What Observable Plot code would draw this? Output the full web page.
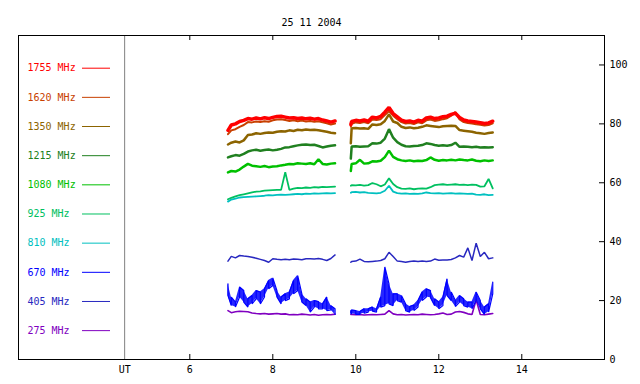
<!DOCTYPE html>
<html><head><meta charset="utf-8">
<script src="https://cdn.jsdelivr.net/npm/d3@7"></script>
<script src="https://cdn.jsdelivr.net/npm/@observablehq/plot@0.6"></script>
<style>body{margin:0;background:#fff}</style>
</head><body><div id="chart"></div>
<script>
const title = "25 11 2004";
const freqLabels = ["1755 MHz","1620 MHz","1350 MHz","1215 MHz","1080 MHz","925 MHz","810 MHz","670 MHz","405 MHz","275 MHz"];
const freqColors = ["#ff0000","#c84000","#8c6400","#208020","#00c000","#00c060","#00c0c0","#0000ff","#2828c0","#8000c0"];
const xTicks = [6, 8, 10, 12, 14];
const yTicks = [0, 20, 40, 60, 80, 100];
const utLabel = "UT";
const utTime = 4.43;

const t1 = [6.92,7.0,7.1,7.2,7.3,7.4,7.5,7.6,7.7,7.8,7.9,8.0,8.1,8.2,8.3,8.4,8.5,8.6,8.7,8.8,8.9,9.0,9.1,9.2,9.3,9.4,9.5];
const t2 = [9.88,9.9,10.0,10.1,10.2,10.3,10.4,10.5,10.6,10.7,10.8,10.9,11.0,11.1,11.2,11.3,11.4,11.5,11.6,11.7,11.8,11.9,12.0,12.1,12.2,12.3,12.4,12.5,12.6,12.7,12.8,12.9,13.0,13.1,13.2,13.3];

const f1755a = [77.8,79.6,80.0,80.8,81.2,81.8,81.6,82.0,81.7,82.1,81.8,82.2,82.5,82.6,82.3,82.0,82.1,81.8,82.0,81.7,81.9,81.6,81.8,81.3,81.0,80.6,81.0];
const f1755b = [79.8,80.8,81.2,81.0,81.3,80.9,82.3,82.0,82.5,84.0,85.6,83.5,82.4,81.3,80.8,81.0,80.6,81.2,80.9,82.0,82.3,81.8,82.0,82.4,82.6,83.2,83.6,82.2,81.3,81.0,80.8,80.6,80.4,80.1,80.3,80.9];
const f1620a = [76.5,77.8,78.2,79.0,79.6,80.6,80.5,80.8,80.6,80.9,80.7,81.2,81.5,81.6,81.3,81.0,81.2,80.9,81.1,80.8,81.0,80.7,80.9,80.5,80.2,79.8,80.1];
const f1620b = [79.0,80.0,80.5,80.3,80.6,80.2,81.5,81.3,81.6,83.0,84.3,82.8,81.6,80.6,80.1,80.3,79.9,80.5,80.2,81.2,81.5,81.0,81.2,81.6,81.9,82.8,84.0,81.5,80.6,80.3,80.1,79.9,79.7,79.4,79.6,80.2];
const f1350a = [73.0,73.6,74.0,73.7,74.4,76.2,76.4,76.8,76.6,76.9,77.1,77.0,77.3,77.5,77.4,77.8,77.6,78.0,77.8,78.1,77.9,78.0,77.8,77.6,77.3,77.0,76.8];
const f1350b = [73.4,78.5,78.6,78.4,78.5,78.3,79.8,79.6,79.9,81.0,83.2,80.8,80.3,79.0,78.6,78.8,78.5,78.7,79.0,79.5,79.3,79.1,78.9,79.2,79.3,79.4,79.3,77.9,77.7,77.5,77.3,77.0,76.8,76.6,76.9,77.1];
const f1215a = [68.6,69.0,69.4,69.2,69.8,70.6,71.0,71.2,70.9,71.1,71.3,71.0,71.2,71.5,72.0,72.1,72.4,72.7,72.9,73.0,72.8,72.9,72.5,72.0,72.3,72.6,72.7];
const f1215b = [68.2,72.3,72.4,72.2,72.3,72.4,73.4,73.3,73.6,75.0,78.2,75.3,73.8,72.9,72.4,72.3,72.5,72.6,72.8,73.4,73.2,72.8,72.6,72.7,72.6,72.8,73.6,72.2,72.3,72.2,72.1,72.2,72.0,72.1,72.0,72.1];
const f1080a = [63.5,64.0,63.8,64.5,65.5,66.4,65.8,65.6,65.4,65.7,65.3,65.5,65.6,65.9,66.1,66.4,66.3,66.6,66.5,66.4,66.6,66.3,68.0,66.4,66.2,66.5,66.6];
const f1080b = [64.0,66.4,66.6,67.8,66.5,66.6,67.3,67.2,67.5,68.7,70.9,68.8,68.0,67.6,67.4,67.6,67.3,67.5,67.4,67.7,68.6,67.8,67.5,67.7,67.6,67.8,67.6,67.9,67.7,67.6,67.9,67.5,67.3,67.6,67.4,67.6];
const f925a = [54.4,54.9,55.4,55.8,56.1,56.4,56.7,57.0,57.1,57.3,57.4,57.5,57.6,57.6,63.6,57.6,58.0,58.3,58.2,58.4,58.3,58.5,58.4,58.6,58.5,58.6,58.7];
const f925b = [59.0,59.2,59.1,59.3,59.0,59.2,59.9,59.5,58.8,59.4,61.5,59.6,58.5,58.0,57.9,58.1,57.8,58.0,58.1,58.0,58.5,59.2,59.4,59.5,59.3,59.4,59.5,59.3,59.4,59.2,59.4,59.3,58.7,58.8,61.3,58.1];
const f810a = [53.6,54.3,54.6,55.0,55.1,55.2,55.3,55.4,55.5,55.6,55.8,55.7,55.9,56.0,55.9,56.0,56.1,56.2,56.1,56.3,56.2,56.4,56.3,56.4,56.5,56.4,56.5];
const f810b = [56.6,56.8,56.9,56.7,56.8,56.6,56.5,56.4,56.6,57.3,59.0,57.0,56.5,56.3,56.4,56.2,56.3,56.2,56.4,56.7,56.5,56.4,56.5,56.3,56.4,56.5,56.3,56.4,56.3,56.2,56.3,56.0,55.9,56.1,55.8,55.9];
const f670aHi = [25.7,21.2,19.5,24.6,23.4,20.6,21.7,23.4,22.9,24.0,26.8,27.7,23.4,21.2,22.3,22.9,26.8,28.5,22.3,20.6,19.5,20.0,19.7,18.9,21.2,18.3,17.2];
const f670aLo = [21.7,18.3,17.8,21.2,19.5,17.8,18.9,20.6,18.9,21.2,24.0,25.1,21.2,18.9,20.0,20.6,22.3,23.4,19.5,18.3,16.1,17.8,17.2,17.2,16.6,16.8,15.3];
const f670bHi = [16.5,16.8,16.6,16.3,17.2,17.2,17.8,17.2,21.2,31.4,25.7,22.3,22.3,21.7,18.9,18.0,18.5,20.0,22.9,24.0,23.4,20.6,19.5,21.2,27.4,22.9,20.0,21.7,20.6,19.5,19.5,22.9,20.0,17.8,18.9,26.3];
const f670bLo = [15.6,15.5,15.3,15.3,15.7,16.1,16.4,16.1,17.8,18.3,18.9,18.3,20.0,19.5,16.6,16.1,16.6,17.8,20.0,21.2,21.0,18.3,17.2,18.3,21.7,20.0,18.0,19.5,18.3,17.8,17.2,20.0,17.2,15.3,16.1,22.3];
const f405a = [33.4,35.0,34.5,35.3,35.1,35.0,34.7,34.4,34.0,33.6,33.0,34.2,34.0,33.9,34.0,33.9,34.1,34.0,33.9,34.2,34.2,34.1,34.3,34.0,33.6,34.3,35.5];
const f405b = [33.0,33.3,33.4,34.1,33.3,33.2,33.3,33.4,33.6,34.2,36.4,35.0,33.4,33.3,33.05,33.3,33.4,33.3,33.4,33.3,33.4,34.1,33.7,33.8,33.8,33.95,34.5,35.3,34.75,37.9,33.6,39.5,35.0,36.4,34.2,34.5];
const f275a = [16.6,15.9,16.2,16.4,16.3,16.2,15.8,15.6,15.5,15.6,15.4,15.5,15.6,15.4,15.5,15.2,15.3,15.2,15.4,15.3,15.1,15.3,15.0,15.2,15.3,15.2,15.4];
const f275b = [15.3,15.3,15.2,15.3,15.1,15.2,15.3,15.2,15.3,15.4,16.6,15.5,15.2,15.3,15.1,15.2,15.3,15.2,15.4,15.3,15.2,15.3,15.5,15.8,15.3,15.4,16.1,16.3,16.0,15.5,15.3,20.3,15.3,15.2,15.4,15.6];

function rows(a, b) {
  return [
    ...t1.map((t, i) => ({t, v: a[i], seg: "a"})),
    ...t2.map((t, i) => ({t, v: b[i], seg: "b"}))
  ];
}
function zig(ts, hi, lo, seg) {
  const out = [];
  ts.forEach((t, i) => {
    const pair = i % 2 === 0 ? [hi[i], lo[i]] : [lo[i], hi[i]];
    out.push({t, v: pair[0], seg}, {t, v: pair[1], seg});
  });
  return out;
}
function band(ts, hi, lo, seg) {
  return ts.map((t, i) => ({t, hi: hi[i], lo: lo[i], seg}));
}
const seriesRows = [
  rows(f1755a, f1755b), rows(f1620a, f1620b), rows(f1350a, f1350b), rows(f1215a, f1215b),
  rows(f1080a, f1080b), rows(f925a, f925b), rows(f810a, f810b),
  [...zig(t1, f670aHi, f670aLo, "a"), ...zig(t2, f670bHi, f670bLo, "b")],
  rows(f405a, f405b), rows(f275a, f275b)
];
const band670 = [...band(t1, f670aHi, f670aLo, "a"), ...band(t2, f670bHi, f670bLo, "b")];
const widths = [3.5, 2, 2.5, 2.5, 2.5, 1.8, 1.8, 1.2, 1.5, 1.6];

const legendRows = freqLabels.map((label, i) => ({label, color: freqColors[i], y: 98.9 - 9.9 * i}));

const lineMarks = [];
for (let i = seriesRows.length - 1; i >= 0; i--) {
  if (i === 7) {
    lineMarks.push(Plot.areaY(band670, {x: "t", y1: "lo", y2: "hi", z: "seg", fill: freqColors[7], fillOpacity: 0.85}));
  }
  lineMarks.push(Plot.line(seriesRows[i], {x: "t", y: "v", z: "seg", stroke: freqColors[i], strokeWidth: widths[i], strokeLinejoin: "miter"}));
}

const chart = Plot.plot({
  width: 640, height: 384,
  marginLeft: 18, marginRight: 36, marginTop: 35, marginBottom: 25,
  x: {domain: [1.872, 15.993], axis: null},
  y: {domain: [0, 110], axis: null},
  color: {type: "identity"},
  style: {background: "white", fontFamily: "DejaVu Sans Mono", fontSize: "10px", color: "black"},
  marks: [
    Plot.ruleX([utTime], {stroke: "#808080"}),
    ...lineMarks,
    Plot.ruleX(xTicks, {insetTop: 319, stroke: "black"}),
    Plot.ruleX(xTicks, {insetBottom: 319, stroke: "black"}),
    Plot.ruleY(yTicks, {insetLeft: 581, stroke: "black"}),
    Plot.frame({stroke: "black"}),
    Plot.text(xTicks, {x: d => d, text: d => String(d), frameAnchor: "bottom", dy: 13, fill: "black"}),
    Plot.text([utLabel], {x: () => utTime, text: d => d, frameAnchor: "bottom", dy: 13, fill: "black"}),
    Plot.text(yTicks, {y: d => d, text: d => String(d), frameAnchor: "right", textAnchor: "start", dx: 5, fill: "black"}),
    Plot.text([title], {text: d => d, frameAnchor: "top", dy: -17, fill: "black"}),
    Plot.text(legendRows, {y: "y", text: "label", fill: "color", frameAnchor: "left", textAnchor: "start", dx: 9}),
    Plot.ruleY(legendRows, {y: "y", stroke: "color", insetLeft: 64, insetRight: 494})
  ]
});
document.getElementById("chart").appendChild(chart);
</script>
</body></html>
